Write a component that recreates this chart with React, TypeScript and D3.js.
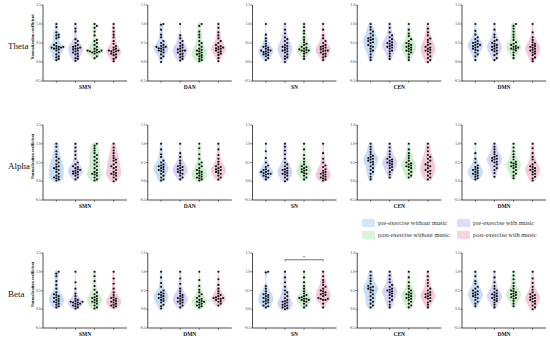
import React, { useEffect, useRef } from 'react';
import * as d3 from 'd3';

const bands = ['Theta', 'Alpha', 'Beta'];
const networks = [
  ['SMN', 'DAN', 'SN', 'CEN', 'DMN'],
  ['SMN', 'DAN', 'SN', 'CEN', 'DMN'],
  ['SMN', 'DMN', 'SN', 'CEN', 'DMN'],
];
// group order inside a panel
const groups = [
  'pre-exercise without music',
  'pre-exercise with music',
  'post-exercise without music',
  'post-exercise with music',
];
const violinColors = ['#c7dcf6', '#d5d3f8', '#cbf1cb', '#f6c9da'];
const legendColors = ['#d3e5f8', '#dcdbf9', '#d9f5d9', '#f8d4e3'];
const yTicks = [-0.5, 0, 0.5, 1, 1.5];
const tickLabels = ['-0.5', '0.0', '0.5', '1.0', '1.5'];

// Theta
const thetaSMN = [
  [1.0, 0.92, 0.78, 0.72, 0.7, 0.65, 0.62, 0.5, 0.45, 0.42, 0.4, 0.4, 0.38, 0.38, 0.36, 0.35, 0.33, 0.3, 0.25, 0.2, 0.15, 0.12, 0.08, 0.05],
  [1.0, 0.88, 0.8, 0.6, 0.55, 0.5, 0.45, 0.42, 0.4, 0.38, 0.36, 0.35, 0.33, 0.3, 0.28, 0.25, 0.22, 0.2, 0.15, 0.1, 0.08, 0.03],
  [1.0, 0.95, 0.9, 0.8, 0.7, 0.58, 0.55, 0.5, 0.45, 0.4, 0.35, 0.32, 0.3, 0.3, 0.28, 0.28, 0.27, 0.25, 0.25, 0.22, 0.15, 0.1],
  [1.0, 0.9, 0.8, 0.72, 0.65, 0.55, 0.48, 0.42, 0.38, 0.35, 0.32, 0.3, 0.3, 0.28, 0.28, 0.25, 0.22, 0.2, 0.18, 0.12, 0.08, 0.02],
];
const thetaDAN = [
  [1.0, 0.98, 0.85, 0.72, 0.65, 0.55, 0.5, 0.45, 0.42, 0.4, 0.4, 0.38, 0.36, 0.35, 0.32, 0.3, 0.28, 0.25, 0.2, 0.15, 0.1, 0.0],
  [1.0, 0.7, 0.62, 0.55, 0.5, 0.45, 0.42, 0.38, 0.35, 0.33, 0.3, 0.3, 0.28, 0.25, 0.22, 0.2, 0.15, 0.12, 0.08, 0.04],
  [1.0, 0.95, 0.8, 0.72, 0.65, 0.55, 0.5, 0.45, 0.4, 0.35, 0.32, 0.3, 0.28, 0.25, 0.22, 0.2, 0.18, 0.15, 0.12, 0.08, 0.05, 0.02],
  [1.0, 0.9, 0.78, 0.7, 0.62, 0.55, 0.5, 0.45, 0.42, 0.4, 0.38, 0.36, 0.35, 0.33, 0.3, 0.28, 0.25, 0.22, 0.18, 0.1, 0.02],
];
const thetaSN = [
  [1.0, 0.72, 0.62, 0.55, 0.48, 0.42, 0.4, 0.38, 0.35, 0.32, 0.3, 0.3, 0.28, 0.26, 0.25, 0.22, 0.2, 0.18, 0.15, 0.1, 0.05],
  [1.0, 0.85, 0.75, 0.65, 0.6, 0.55, 0.5, 0.45, 0.42, 0.4, 0.38, 0.35, 0.32, 0.3, 0.28, 0.25, 0.2, 0.15, 0.12, 0.08, 0.0],
  [1.0, 0.92, 0.82, 0.75, 0.65, 0.58, 0.52, 0.48, 0.45, 0.4, 0.38, 0.35, 0.33, 0.32, 0.3, 0.3, 0.28, 0.25, 0.22, 0.15, 0.08],
  [1.0, 0.85, 0.7, 0.62, 0.55, 0.5, 0.45, 0.42, 0.4, 0.38, 0.35, 0.33, 0.3, 0.3, 0.28, 0.25, 0.22, 0.2, 0.15, 0.12, 0.05],
];
const thetaCEN = [
  [1.0, 0.92, 0.85, 0.8, 0.75, 0.7, 0.65, 0.62, 0.6, 0.58, 0.55, 0.52, 0.5, 0.45, 0.42, 0.4, 0.35, 0.3, 0.28, 0.2, 0.12, 0.05],
  [1.0, 0.9, 0.78, 0.7, 0.65, 0.6, 0.55, 0.52, 0.5, 0.48, 0.45, 0.42, 0.4, 0.38, 0.35, 0.3, 0.28, 0.22, 0.15, 0.08],
  [1.0, 0.85, 0.75, 0.68, 0.6, 0.55, 0.5, 0.48, 0.45, 0.42, 0.4, 0.38, 0.35, 0.32, 0.3, 0.28, 0.25, 0.2, 0.12, 0.05],
  [1.0, 0.88, 0.78, 0.7, 0.62, 0.58, 0.52, 0.48, 0.45, 0.4, 0.38, 0.35, 0.32, 0.3, 0.28, 0.25, 0.2, 0.15, 0.1, 0.05, 0.0],
];
const thetaDMN = [
  [1.0, 0.82, 0.72, 0.65, 0.6, 0.55, 0.52, 0.5, 0.48, 0.45, 0.45, 0.42, 0.4, 0.38, 0.35, 0.32, 0.3, 0.25, 0.2, 0.15, 0.05],
  [1.0, 0.85, 0.72, 0.65, 0.58, 0.55, 0.5, 0.48, 0.45, 0.42, 0.4, 0.38, 0.35, 0.32, 0.3, 0.28, 0.22, 0.18, 0.1, 0.05],
  [1.0, 0.95, 0.88, 0.8, 0.72, 0.65, 0.58, 0.52, 0.48, 0.45, 0.42, 0.4, 0.38, 0.36, 0.35, 0.33, 0.3, 0.25, 0.18, 0.1],
  [1.0, 0.78, 0.65, 0.58, 0.52, 0.48, 0.45, 0.42, 0.4, 0.38, 0.35, 0.32, 0.3, 0.28, 0.25, 0.22, 0.18, 0.12, 0.08, 0.02],
];

// Alpha
const alphaSMN = [
  [1.0, 0.92, 0.8, 0.72, 0.65, 0.6, 0.55, 0.5, 0.45, 0.4, 0.38, 0.35, 0.32, 0.3, 0.25, 0.2, 0.15, 0.12, 0.1, 0.08, 0.05, 0.02],
  [1.0, 0.9, 0.8, 0.7, 0.6, 0.5, 0.45, 0.4, 0.38, 0.35, 0.32, 0.3, 0.28, 0.26, 0.25, 0.22, 0.2, 0.18, 0.15, 0.1, 0.05],
  [1.0, 0.95, 0.88, 0.82, 0.75, 0.7, 0.65, 0.6, 0.55, 0.5, 0.45, 0.4, 0.35, 0.3, 0.25, 0.22, 0.2, 0.18, 0.15, 0.1, 0.05, 0.02],
  [1.0, 0.9, 0.82, 0.75, 0.68, 0.62, 0.58, 0.55, 0.5, 0.45, 0.4, 0.38, 0.35, 0.3, 0.25, 0.22, 0.2, 0.18, 0.15, 0.1, 0.05, 0.0],
];
const alphaDAN = [
  [1.0, 0.85, 0.72, 0.65, 0.55, 0.5, 0.45, 0.42, 0.4, 0.38, 0.35, 0.32, 0.3, 0.28, 0.25, 0.2, 0.15, 0.1, 0.05, 0.02],
  [1.0, 0.75, 0.65, 0.55, 0.48, 0.42, 0.4, 0.38, 0.35, 0.32, 0.3, 0.28, 0.25, 0.22, 0.2, 0.15, 0.1, 0.05],
  [1.0, 0.88, 0.72, 0.6, 0.5, 0.45, 0.4, 0.35, 0.3, 0.28, 0.25, 0.22, 0.2, 0.18, 0.15, 0.12, 0.1, 0.08, 0.05, 0.02],
  [1.0, 0.85, 0.7, 0.6, 0.52, 0.45, 0.4, 0.38, 0.35, 0.32, 0.3, 0.28, 0.25, 0.22, 0.2, 0.15, 0.1, 0.05],
];
const alphaSN = [
  [1.0, 0.8, 0.62, 0.5, 0.42, 0.38, 0.32, 0.3, 0.28, 0.25, 0.25, 0.22, 0.2, 0.2, 0.18, 0.15, 0.12, 0.1, 0.05],
  [1.0, 0.92, 0.82, 0.72, 0.6, 0.5, 0.45, 0.4, 0.35, 0.32, 0.3, 0.28, 0.25, 0.22, 0.2, 0.18, 0.15, 0.1, 0.05, 0.0],
  [1.0, 0.85, 0.7, 0.6, 0.52, 0.45, 0.4, 0.38, 0.35, 0.32, 0.3, 0.28, 0.25, 0.22, 0.2, 0.15, 0.1, 0.05],
  [1.0, 0.75, 0.6, 0.5, 0.42, 0.38, 0.32, 0.28, 0.25, 0.22, 0.2, 0.18, 0.15, 0.12, 0.1, 0.08, 0.05, 0.02],
];
const alphaCEN = [
  [1.0, 0.92, 0.85, 0.78, 0.72, 0.68, 0.65, 0.62, 0.6, 0.58, 0.55, 0.52, 0.5, 0.45, 0.4, 0.35, 0.3, 0.25, 0.2, 0.12, 0.05],
  [1.0, 0.9, 0.8, 0.72, 0.65, 0.6, 0.58, 0.55, 0.52, 0.5, 0.48, 0.45, 0.42, 0.38, 0.35, 0.3, 0.25, 0.18, 0.1],
  [1.0, 0.85, 0.75, 0.68, 0.62, 0.55, 0.5, 0.48, 0.45, 0.42, 0.4, 0.38, 0.35, 0.3, 0.25, 0.2, 0.15, 0.1],
  [1.0, 0.9, 0.8, 0.7, 0.65, 0.6, 0.55, 0.5, 0.45, 0.42, 0.4, 0.35, 0.3, 0.28, 0.25, 0.2, 0.15, 0.1, 0.05],
];
const alphaDMN = [
  [1.0, 0.75, 0.6, 0.5, 0.42, 0.38, 0.35, 0.32, 0.3, 0.28, 0.25, 0.22, 0.2, 0.18, 0.15, 0.12, 0.08, 0.05],
  [1.0, 0.92, 0.85, 0.78, 0.72, 0.68, 0.65, 0.62, 0.6, 0.58, 0.55, 0.52, 0.5, 0.45, 0.4, 0.35, 0.3, 0.22, 0.12],
  [1.0, 0.9, 0.8, 0.72, 0.65, 0.58, 0.52, 0.5, 0.48, 0.45, 0.42, 0.4, 0.38, 0.35, 0.3, 0.25, 0.2, 0.15, 0.08],
  [1.0, 0.88, 0.75, 0.65, 0.58, 0.5, 0.45, 0.4, 0.38, 0.35, 0.32, 0.3, 0.28, 0.25, 0.2, 0.18, 0.12, 0.08, 0.02],
];

// Beta
const betaSMN = [
  [1.0, 0.95, 0.88, 0.75, 0.65, 0.55, 0.45, 0.4, 0.38, 0.35, 0.32, 0.3, 0.28, 0.25, 0.22, 0.2, 0.18, 0.15, 0.12, 0.08, 0.05],
  [1.0, 0.72, 0.55, 0.42, 0.35, 0.28, 0.25, 0.22, 0.2, 0.2, 0.18, 0.18, 0.15, 0.15, 0.12, 0.1, 0.08, 0.05, 0.02],
  [1.0, 0.88, 0.75, 0.62, 0.52, 0.45, 0.4, 0.35, 0.32, 0.3, 0.28, 0.25, 0.22, 0.2, 0.18, 0.15, 0.1, 0.05, 0.02],
  [1.0, 0.82, 0.68, 0.55, 0.45, 0.38, 0.32, 0.3, 0.28, 0.25, 0.22, 0.2, 0.18, 0.15, 0.12, 0.1, 0.08, 0.05],
];
const betaDMN2 = [
  [1.0, 0.85, 0.7, 0.6, 0.5, 0.45, 0.42, 0.4, 0.38, 0.35, 0.32, 0.3, 0.28, 0.25, 0.22, 0.18, 0.12, 0.08, 0.02],
  [1.0, 0.82, 0.68, 0.55, 0.48, 0.42, 0.38, 0.35, 0.32, 0.3, 0.28, 0.25, 0.22, 0.2, 0.18, 0.15, 0.1, 0.05],
  [1.0, 0.78, 0.62, 0.52, 0.45, 0.4, 0.35, 0.3, 0.28, 0.25, 0.22, 0.2, 0.2, 0.18, 0.15, 0.12, 0.1, 0.08, 0.05],
  [1.0, 0.8, 0.65, 0.55, 0.48, 0.42, 0.38, 0.35, 0.32, 0.3, 0.3, 0.28, 0.28, 0.25, 0.22, 0.2, 0.15, 0.1],
];
const betaSN = [
  [1.0, 0.98, 0.62, 0.55, 0.48, 0.42, 0.4, 0.38, 0.35, 0.32, 0.3, 0.28, 0.25, 0.22, 0.2, 0.18, 0.15, 0.1, 0.08, 0.05],
  [1.0, 0.85, 0.72, 0.6, 0.5, 0.45, 0.4, 0.35, 0.3, 0.25, 0.22, 0.2, 0.18, 0.15, 0.12, 0.1, 0.08, 0.05, 0.03, 0.0],
  [1.0, 0.85, 0.72, 0.62, 0.55, 0.48, 0.42, 0.38, 0.35, 0.32, 0.3, 0.28, 0.28, 0.25, 0.25, 0.22, 0.2, 0.15, 0.1, 0.05],
  [1.0, 0.88, 0.78, 0.72, 0.65, 0.6, 0.55, 0.5, 0.48, 0.45, 0.42, 0.4, 0.38, 0.35, 0.3, 0.28, 0.28, 0.25, 0.25, 0.15, 0.05],
];
const betaCEN = [
  [1.0, 0.9, 0.82, 0.75, 0.68, 0.62, 0.6, 0.58, 0.55, 0.52, 0.5, 0.45, 0.4, 0.35, 0.3, 0.25, 0.2, 0.15, 0.1, 0.05],
  [1.0, 0.9, 0.8, 0.72, 0.65, 0.6, 0.55, 0.52, 0.5, 0.48, 0.45, 0.42, 0.38, 0.35, 0.3, 0.25, 0.2, 0.12, 0.05],
  [1.0, 0.85, 0.72, 0.62, 0.55, 0.5, 0.45, 0.42, 0.4, 0.38, 0.35, 0.32, 0.3, 0.28, 0.25, 0.2, 0.15, 0.1, 0.05],
  [1.0, 0.88, 0.78, 0.7, 0.62, 0.55, 0.5, 0.45, 0.42, 0.4, 0.38, 0.35, 0.32, 0.3, 0.28, 0.22, 0.18, 0.12, 0.05],
];
const betaDMN = [
  [1.0, 0.88, 0.75, 0.68, 0.6, 0.55, 0.5, 0.48, 0.45, 0.42, 0.4, 0.38, 0.35, 0.32, 0.3, 0.25, 0.2, 0.15, 0.08],
  [1.0, 0.85, 0.72, 0.62, 0.55, 0.5, 0.45, 0.42, 0.4, 0.38, 0.35, 0.32, 0.3, 0.28, 0.25, 0.22, 0.18, 0.12, 0.05],
  [1.0, 0.9, 0.8, 0.7, 0.62, 0.55, 0.5, 0.48, 0.45, 0.42, 0.4, 0.38, 0.35, 0.32, 0.3, 0.28, 0.22, 0.15, 0.08],
  [1.0, 0.82, 0.7, 0.6, 0.52, 0.45, 0.4, 0.38, 0.35, 0.32, 0.3, 0.28, 0.25, 0.22, 0.2, 0.15, 0.1, 0.05, 0.0],
];

const panels = [
  [thetaSMN, thetaDAN, thetaSN, thetaCEN, thetaDMN],
  [alphaSMN, alphaDAN, alphaSN, alphaCEN, alphaDMN],
  [betaSMN, betaDMN2, betaSN, betaCEN, betaDMN],
];

// significance: row, column, from group, to group
const sigBrackets = [{ row: 2, col: 2, from: 1, to: 3, value: 1.32, label: '*' }];

const serif = '"Liberation Serif", "Times New Roman", serif';

function kde(values: number[], bw: number, at: number[]) {
  return at.map(t => d3.mean(values, v => Math.exp(-0.5 * ((t - v) / bw) ** 2)) as number);
}

function swarm(values: number[], y: any, r: number) {
  const placed: { x: number; y: number }[] = [];
  const step = r * 2 + 0.15;
  const sorted = values.slice().sort((a, b) => a - b);
  sorted.forEach(v => {
    const py = y(v);
    let dx = 0;
    for (let k = 0; k < 40; k++) {
      const cand = k === 0 ? 0 : (k % 2 ? 1 : -1) * Math.ceil(k / 2) * step;
      if (placed.every(p => (p.x - cand) ** 2 + (p.y - py) ** 2 >= (r * 2) ** 2)) {
        dx = cand;
        break;
      }
    }
    placed.push({ x: dx, y: py });
  });
  return placed;
}

const App = () => {
  const svgRef: any = useRef();

  useEffect(() => {
    const svg = d3.select(svgRef.current);
    svg.selectAll('*').remove();

    const panelW = 84;
    const rowTop = [5, 125, 253];
    const rowBottom = [81, 200, 328];
    const colX = d3.scaleLinear().domain([0, 4]).range([43, 462]);
    const x = d3.scalePoint<number>().domain([0, 1, 2, 3]).range([0, panelW]).padding(0.7);

    panels.forEach((row, ri) => {
      const y = d3.scaleLinear().domain([-0.5, 1.5]).range([rowBottom[ri], rowTop[ri]]);

      // row label
      svg.append('text')
        .attr('x', 8)
        .attr('y', (rowTop[ri] + rowBottom[ri]) / 2 + 6)
        .attr('font-family', serif)
        .attr('font-size', 9)
        .attr('fill', '#111')
        .text(bands[ri]);

      row.forEach((data, ci) => {
        const g = svg.append('g').attr('transform', `translate(${colX(ci)},0)`);

        // violins
        data.forEach((vals, gi) => {
          const lo = (d3.min(vals) as number) - 0.05;
          const hi = (d3.max(vals) as number) + 0.05;
          const at = d3.range(0, 41).map(i => lo + (hi - lo) * i / 40);
          const dens = kde(vals, 0.09, at);
          const maxD = d3.max(dens) as number;
          const w = d3.scaleLinear().domain([0, maxD]).range([0, 7.5]);
          const pts = at.map((t, i) => [t, i === 0 || i === at.length - 1 ? 0 : dens[i]]);
          const cx = x(gi) as number;
          const area = d3.area<any>()
            .y(d => y(d[0]))
            .x0(d => cx - w(d[1]))
            .x1(d => cx + w(d[1]))
            .curve(d3.curveBasis);
          g.append('path').attr('d', area(pts)).attr('fill', violinColors[gi]);
        });

        // dots
        data.forEach((vals, gi) => {
          const cx = x(gi) as number;
          swarm(vals, y, 1.1).forEach(p => {
            g.append('circle')
              .attr('cx', cx + p.x)
              .attr('cy', p.y)
              .attr('r', 1.1)
              .attr('fill', '#111');
          });
        });

        // y axis
        g.append('line')
          .attr('x1', 0).attr('x2', 0)
          .attr('y1', y(1.5)).attr('y2', y(-0.5))
          .attr('stroke', '#222').attr('stroke-width', 0.8);
        yTicks.forEach((t, i) => {
          g.append('line')
            .attr('x1', -1.8).attr('x2', 0)
            .attr('y1', y(t)).attr('y2', y(t))
            .attr('stroke', '#222').attr('stroke-width', 0.6);
          g.append('text')
            .attr('x', -2.4)
            .attr('y', y(t) + 1.1)
            .attr('text-anchor', 'end')
            .attr('font-family', serif)
            .attr('font-size', 3.4)
            .attr('fill', '#111')
            .text(tickLabels[i]);
        });

        // x axis
        g.append('line')
          .attr('x1', 0).attr('x2', panelW)
          .attr('y1', y(-0.5)).attr('y2', y(-0.5))
          .attr('stroke', '#222').attr('stroke-width', 0.8);
        [0, 1, 2, 3].forEach(gi => {
          g.append('line')
            .attr('x1', x(gi) as number).attr('x2', x(gi) as number)
            .attr('y1', y(-0.5)).attr('y2', y(-0.5) + 1.8)
            .attr('stroke', '#222').attr('stroke-width', 0.6);
        });
        g.append('text')
          .attr('x', panelW / 2)
          .attr('y', y(-0.5) + 8)
          .attr('text-anchor', 'middle')
          .attr('font-family', serif)
          .attr('font-size', 5.5)
          .attr('font-weight', 'bold')
          .attr('fill', '#111')
          .text(networks[ri][ci]);

        // y title on first column
        if (ci === 0) {
          g.append('text')
            .attr('transform', `translate(-9,${(y(1.5) + y(-0.5)) / 2 - 6}) rotate(-90)`)
            .attr('text-anchor', 'middle')
            .attr('font-family', serif)
            .attr('font-size', 4.2)
            .attr('font-weight', 'bold')
            .attr('fill', '#111')
            .text('Normalization coefficient');
        }

        sigBrackets.filter(s => s.row === ri && s.col === ci).forEach(s => {
          const x1 = x(s.from) as number;
          const x2 = x(s.to) as number;
          const by = y(s.value);
          g.append('path')
            .attr('d', `M${x1},${by + 1.5}V${by}H${x2}V${by + 1.5}`)
            .attr('fill', 'none')
            .attr('stroke', '#333')
            .attr('stroke-width', 0.7);
          g.append('text')
            .attr('x', (x1 + x2) / 2)
            .attr('y', by - 1)
            .attr('text-anchor', 'middle')
            .attr('font-family', serif)
            .attr('font-size', 5)
            .attr('fill', '#111')
            .text(s.label);
        });
      });
    });

    // legend
    const legendX = [362, 457];
    const legendY = [223, 235];
    groups.forEach((name, gi) => {
      const lx = legendX[gi % 2];
      const ly = legendY[Math.floor(gi / 2)];
      svg.append('rect')
        .attr('x', lx).attr('y', ly - 4)
        .attr('width', 13).attr('height', 8)
        .attr('fill', legendColors[gi]);
      svg.append('text')
        .attr('x', lx + 16)
        .attr('y', ly + 2)
        .attr('font-family', serif)
        .attr('font-size', 6.4)
        .attr('fill', '#333')
        .text(name);
    });
  }, []);

  return (
    <svg
      ref={svgRef}
      width={550}
      height={339}
      style={{ position: 'absolute', left: 0, top: 0, background: '#fff' }}
    />
  );
};

export default App;
